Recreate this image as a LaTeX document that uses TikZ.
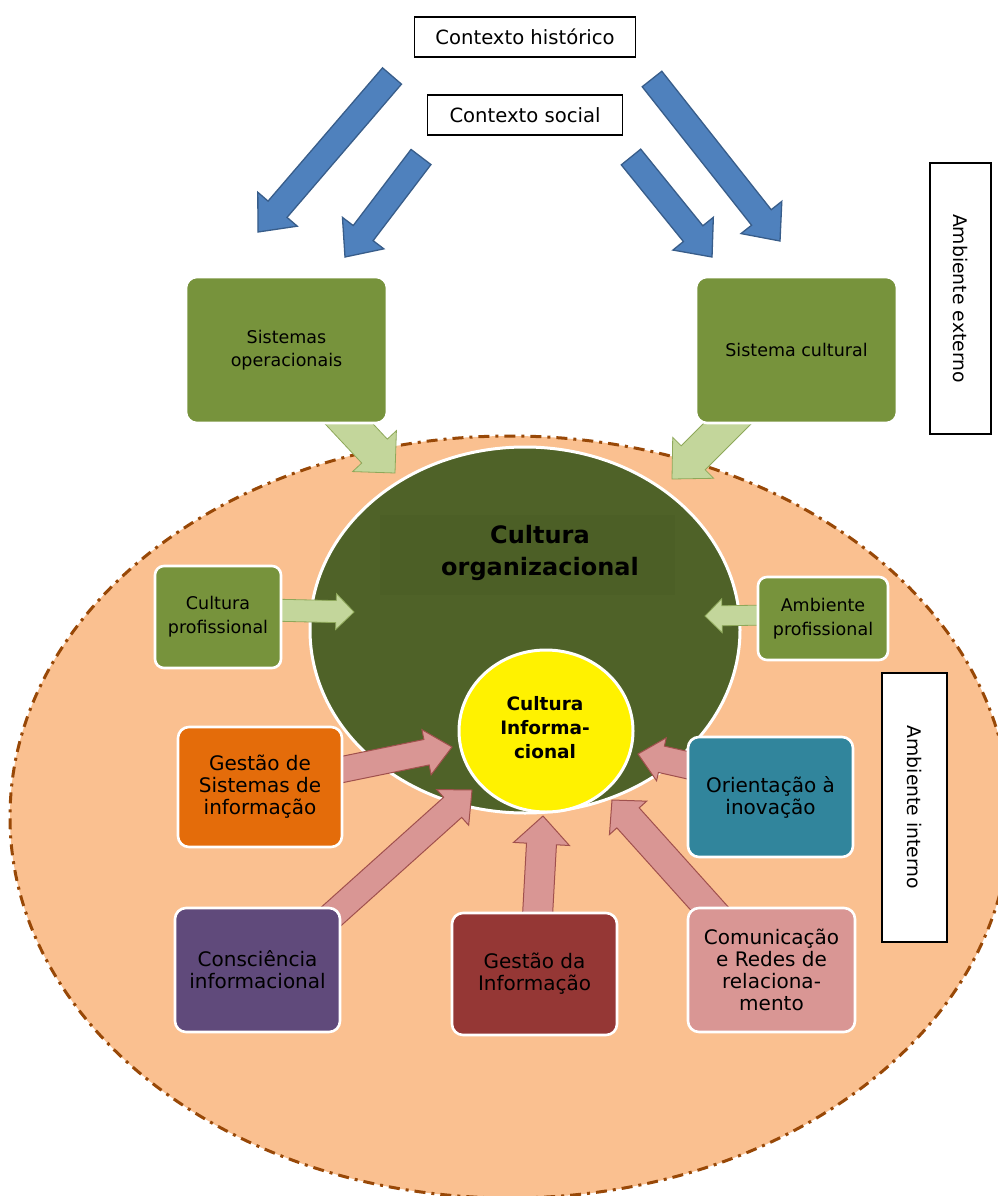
\documentclass[tikz,border=0pt]{standalone}
\usepackage{fontspec}
\setmainfont{DejaVu Sans}
\usetikzlibrary{calc}
\definecolor{peach}{HTML}{FAC090}
\definecolor{peachline}{HTML}{984807}
\definecolor{darkolive}{HTML}{4F6228}
\definecolor{darkolivebg}{HTML}{4C5F26}
\definecolor{olive}{HTML}{77933C}
\definecolor{lightolive}{HTML}{C3D69B}
\definecolor{lightoliveline}{HTML}{8EA85A}
\definecolor{bluefill}{HTML}{4F81BD}
\definecolor{blueline}{HTML}{385D8A}
\definecolor{orangebox}{HTML}{E46C0A}
\definecolor{tealbox}{HTML}{31859C}
\definecolor{purplebox}{HTML}{604A7B}
\definecolor{redbox}{HTML}{953735}
\definecolor{pinkbox}{HTML}{D99694}
\definecolor{pinkline}{HTML}{A0504D}
% block arrow: style, tail, tip, shaft width, head width, head length
\newcommand\blockarrow[6]{%
  \coordinate (ba-base) at ($(#3)!#6!(#2)$);
  \draw[#1] ($(#2)!#4/2!90:(#3)$) -- ($(ba-base)!#4/2!90:(#3)$) -- ($(ba-base)!#5/2!90:(#3)$) -- (#3)
    -- ($(ba-base)!#5/2!-90:(#3)$) -- ($(ba-base)!#4/2!-90:(#3)$) -- ($(#2)!#4/2!-90:(#3)$) -- cycle;
}
\begin{document}
\begin{tikzpicture}[x=1pt,y=-1pt,
  lbl/.style={draw=black, line width=1.3pt, fill=white, inner sep=0pt, font=\fontsize{19.6}{22}\selectfont},
  vlbl/.style={lbl, rotate=-90, font=\fontsize{18.8}{22}\selectfont},
  box/.style={rounded corners=11pt, draw=white, line width=2.6pt, inner sep=2pt, align=center, text=black},
  topbox/.style={box, fill=olive, minimum width=201pt, minimum height=146pt, font=\fontsize{17.5}{23}\selectfont},
  smallbox/.style={box, fill=olive, rounded corners=9pt, font=\fontsize{17.5}{24}\selectfont},
  botbox/.style={box, minimum width=165pt, minimum height=122pt, font=\fontsize{20}{22}\selectfont},
  bluearr/.style={fill=bluefill, draw=blueline, line width=1.3pt, line join=miter},
  greenarr/.style={fill=lightolive, draw=lightoliveline, line width=0.8pt, line join=miter},
  pinkarr/.style={fill=pinkbox, draw=pinkline, line width=1pt, line join=miter},
]
\useasboundingbox (0,0) rectangle (998,1196);
\fill[white] (0,0) rectangle (998,1196);

% outer ellipse (ambiente interno)
\begin{scope}
  \clip (0,0) rectangle (998,1196);
  \draw[fill=peach, draw=peachline, line width=3pt, dash pattern=on 11pt off 6pt on 3pt off 6pt]
    (510,817) ellipse [x radius=500, y radius=381];
\end{scope}

% cultura organizacional circle
\draw[fill=darkolive, draw=white, line width=3pt] (525,630) ellipse [x radius=215, y radius=183];
\node[fill=darkolivebg, minimum width=295pt, minimum height=80pt, inner sep=0pt] (orgbg) at (527,555) {};
\node[font=\bfseries\fontsize{24}{32}\selectfont, align=center, text=black] (org) at (540,553) {Cultura\\organizacional};

% cultura informacional circle
\draw[fill=yellow, draw=white, line width=3pt] (546,731) ellipse [x radius=87, y radius=81];
\node[font=\bfseries\fontsize{18.5}{24}\selectfont, align=center, text=black] (inf) at (545,728) {Cultura\\Informa-\\cional};

% light green arrows
\coordinate (g1t) at (323,396); \coordinate (g1h) at (395,473);
\coordinate (g2t) at (753,398); \coordinate (g2h) at (672,479);
\coordinate (g3t) at (268,610); \coordinate (g3h) at (354,612);
\coordinate (g4t) at (770,615); \coordinate (g4h) at (705,616);
\blockarrow{greenarr}{g1t}{g1h}{35pt}{60pt}{30pt}
\blockarrow{greenarr}{g2t}{g2h}{34pt}{58pt}{30pt}
\blockarrow{greenarr}{g3t}{g3h}{22pt}{36pt}{18pt}
\blockarrow{greenarr}{g4t}{g4h}{20pt}{34pt}{17pt}

% pink arrows
\coordinate (p1t) at (330,772); \coordinate (p1h) at (452,747);
\coordinate (p2t) at (316,930); \coordinate (p2h) at (472,790);
\coordinate (p3t) at (537,925); \coordinate (p3h) at (543,816);
\coordinate (p4t) at (700,768); \coordinate (p4h) at (638,754);
\coordinate (p5t) at (718,918); \coordinate (p5h) at (612,800);
\blockarrow{pinkarr}{p1t}{p1h}{26pt}{46pt}{26pt}
\blockarrow{pinkarr}{p2t}{p2h}{27pt}{48pt}{26pt}
\blockarrow{pinkarr}{p3t}{p3h}{30pt}{56pt}{28pt}
\blockarrow{pinkarr}{p4t}{p4h}{27pt}{44pt}{24pt}
\blockarrow{pinkarr}{p5t}{p5h}{30pt}{50pt}{24pt}

% boxes
\node[topbox] (sisop) at (286.5,350) {Sistemas\\operacionais};
\node[topbox] (siscul) at (796.5,350) {Sistema cultural};
\node[smallbox, minimum width=126pt, minimum height=102pt] (culprof) at (218,617) {Cultura\\profissional};
\node[smallbox, minimum width=130pt, minimum height=83pt] (ambprof) at (823,618.5) {Ambiente\\profissional};
\node[botbox, fill=orangebox, minimum width=164pt, minimum height=120pt] (gestsi) at (260,787) {Gestão de\\Sistemas de\\informação};
\node[botbox, fill=tealbox, minimum height=120pt] (orient) at (770.5,797) {Orientação à\\inovação};
\node[botbox, fill=purplebox, minimum height=124pt] (consc) at (257.5,970) {Consciência\\informacional};
\node[botbox, fill=redbox] (gestinf) at (534.5,974) {Gestão da\\Informação};
\node[botbox, fill=pinkbox, minimum width=167pt, minimum height=124pt] (comun) at (771.5,970) {Comunicação\\e Redes de\\relaciona-\\mento};

% blue arrows
\coordinate (b1t) at (392,76);  \coordinate (b1h) at (258,232);
\coordinate (b2t) at (421,157); \coordinate (b2h) at (345,257);
\coordinate (b3t) at (631,157); \coordinate (b3h) at (712,257);
\coordinate (b4t) at (652,79);  \coordinate (b4h) at (780,241);
\blockarrow{bluearr}{b1t}{b1h}{25pt}{52pt}{30pt}
\blockarrow{bluearr}{b2t}{b2h}{25pt}{52pt}{30pt}
\blockarrow{bluearr}{b3t}{b3h}{25pt}{52pt}{30pt}
\blockarrow{bluearr}{b4t}{b4h}{25pt}{52pt}{30pt}

% label boxes
\node[lbl, minimum width=221pt, minimum height=40pt] (ctxh) at (525,37) {Contexto histórico};
\node[lbl, minimum width=195pt, minimum height=40pt] (ctxs) at (525,115) {Contexto social};
\node[vlbl, minimum width=271pt, minimum height=61pt] (ambext) at (960.5,298.5) {Ambiente externo};
\node[vlbl, minimum width=269pt, minimum height=65pt] (ambint) at (914.5,807.5) {Ambiente interno};
\end{tikzpicture}
\end{document}
